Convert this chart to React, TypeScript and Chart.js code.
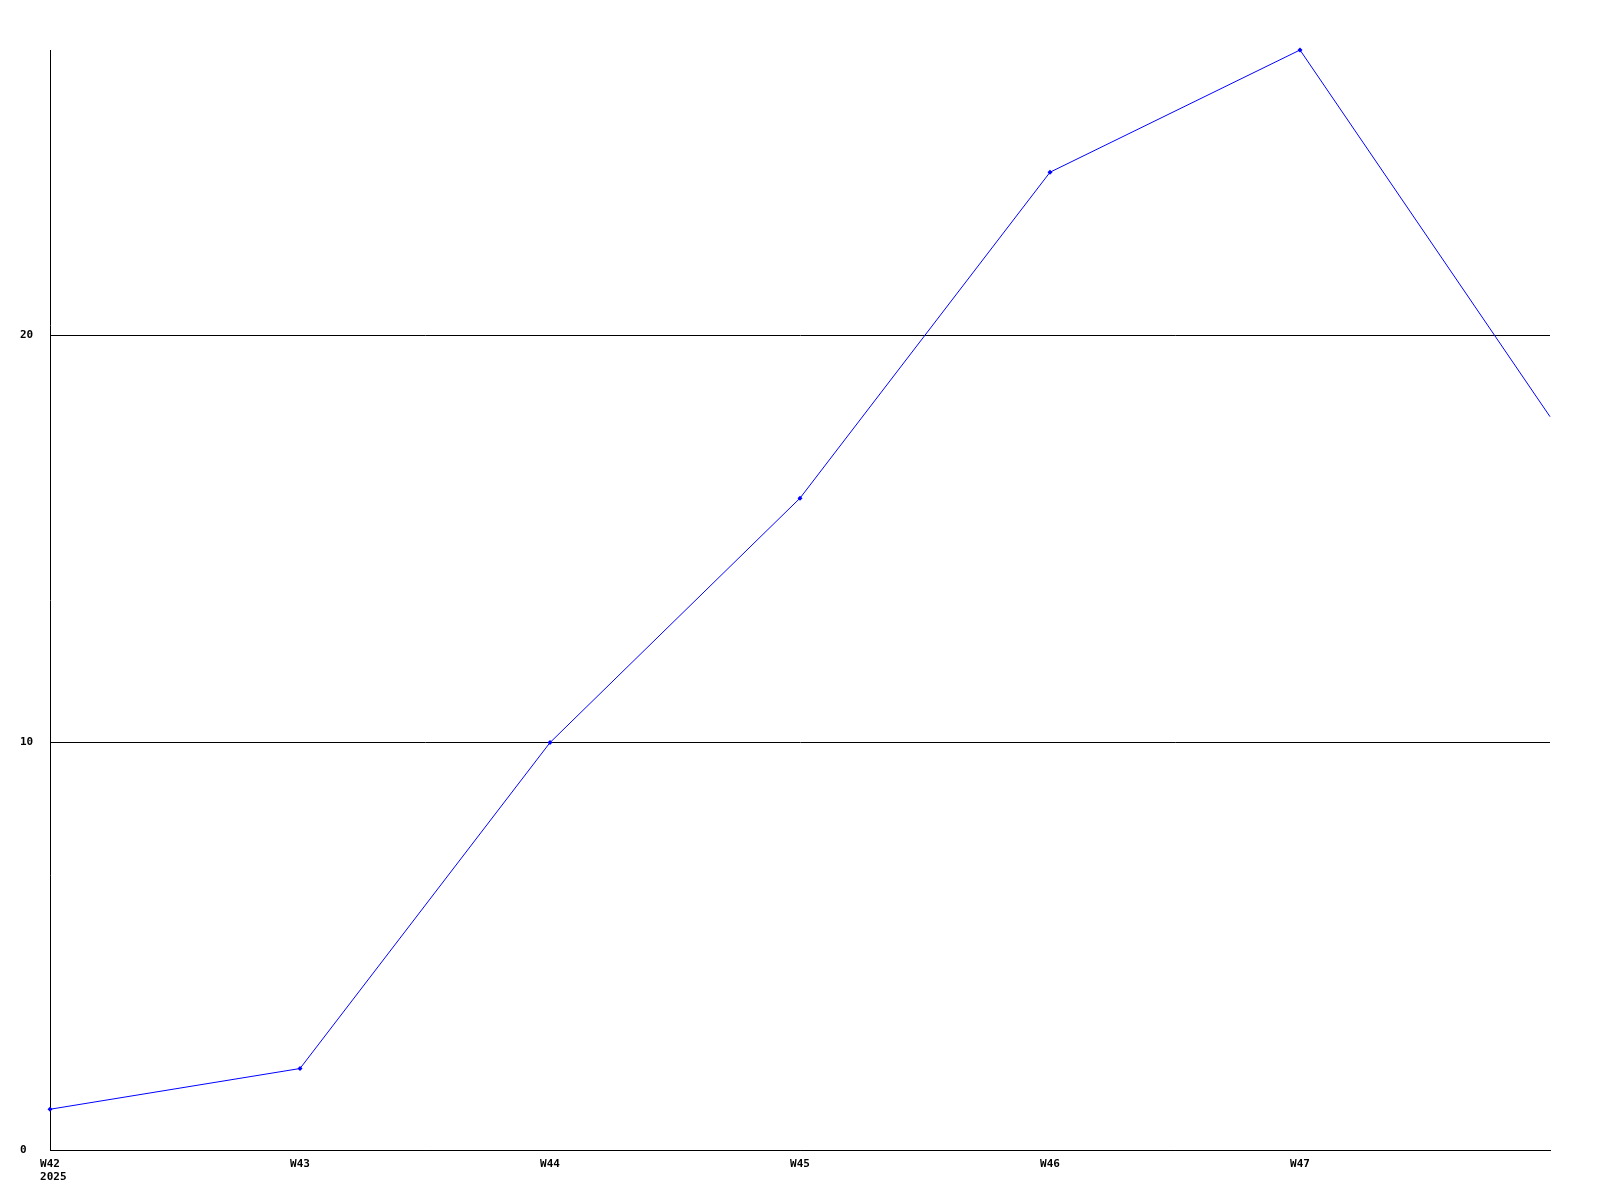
import React, { useEffect, useRef } from "react";
import { Chart, registerables } from "chart.js";

Chart.register(...registerables);

const weeks = ["W42", "W43", "W44", "W45", "W46", "W47", "W48"];
const firstSubLabel = "2025";
const values = [1, 2, 10, 16, 24, 27, 18];
const yMax = 27;
const yStep = 10;

const FONT_FAMILY = "'DejaVu Sans Mono', monospace";

const yearLabelPlugin = {
  id: "yearLabel",
  afterDraw(chart: any) {
    const x = chart.scales.x;
    const ctx = chart.ctx;
    ctx.save();
    ctx.font = `bold 11px ${FONT_FAMILY}`;
    ctx.fillStyle = "#000";
    ctx.textBaseline = "top";
    ctx.textAlign = "left";
    const px = x.getPixelForTick(0);
    const w = ctx.measureText(weeks[0]).width;
    ctx.fillText(firstSubLabel, px - w / 2, x.top + 8 + 14);
    ctx.restore();
  },
};

export default function App() {
  const ref = useRef<HTMLCanvasElement | null>(null);

  useEffect(() => {
    if (!ref.current) return;
    const font = { family: FONT_FAMILY, size: 11, weight: "bold" as const };
    const chart = new Chart(ref.current, {
      type: "line",
      data: {
        labels: weeks,
        datasets: [
          {
            data: values,
            borderColor: "#0000ff",
            backgroundColor: "#0000ff",
            borderWidth: 1,
            pointRadius: values.map((_, i) => (i === values.length - 1 ? 0 : 2.5)),
            pointStyle: "rectRot",
            pointBorderWidth: 0,
            tension: 0,
            fill: false,
            clip: false as any,
          },
        ],
      },
      options: {
        responsive: false,
        animation: false,
        events: [],
        layout: { padding: { top: 50, right: 50, left: 20, bottom: 0 } },
        plugins: { legend: { display: false }, tooltip: { enabled: false } },
        scales: {
          x: {
            type: "category",
            offset: false,
            grid: { display: false, drawTicks: false },
            border: { display: true, color: "#000", width: 1 },
            ticks: {
              color: "#000",
              font,
              padding: 8,
              maxRotation: 0,
              autoSkip: false,
              callback: (_v: any, i: number) => (i === weeks.length - 1 ? "" : weeks[i]),
            },
            afterFit: (s: any) => {
              s.height = 50;
            },
          },
          y: {
            min: 0,
            max: yMax,
            grid: { color: "#000", lineWidth: 1, drawTicks: false },
            border: { display: true, color: "#000", width: 1 },
            ticks: {
              stepSize: yStep,
              includeBounds: false,
              color: "#000",
              font,
              padding: 10,
              crossAlign: "far",
            },
            afterFit: (s: any) => {
              s.width = 30;
            },
          },
        },
      },
      plugins: [yearLabelPlugin],
    });
    return () => chart.destroy();
  }, []);

  return (
    <canvas
      ref={ref}
      width={1600}
      height={1200}
      style={{ position: "absolute", left: 0, top: 0, width: 1600, height: 1200, background: "#fff" }}
    />
  );
}
